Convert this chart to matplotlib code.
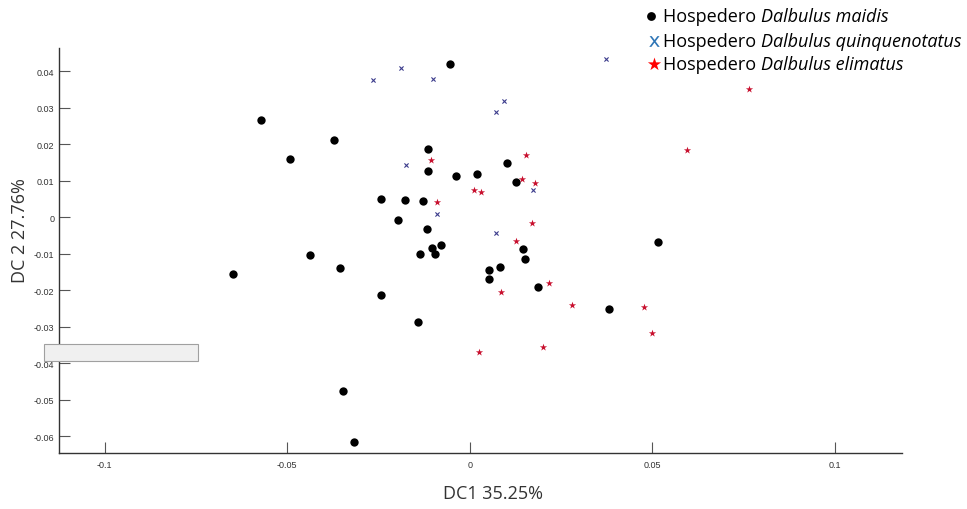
import matplotlib.pyplot as plt
from matplotlib.patches import Rectangle

# puntos (DC1, DC2)
maidis_x = [-0.0055, -0.0572, -0.0373, -0.0492, -0.0113, -0.0113, -0.0037, 0.0019,
            0.0101, 0.0126, -0.0242, -0.0176, -0.0127, -0.0196, -0.0118, -0.0078,
            -0.0104, -0.0136, -0.0094, 0.0146, 0.0152, 0.0083, 0.0052, 0.0052,
            0.0188, -0.0141, 0.0382, 0.0517, -0.0648, -0.0437, -0.0355, -0.0244,
            -0.0347, -0.0316]
maidis_y = [0.0419, 0.0266, 0.0213, 0.0160, 0.0186, 0.0126, 0.0114, 0.0118,
            0.0148, 0.0096, 0.0049, 0.0047, 0.0045, -0.0008, -0.0033, -0.0076,
            -0.0084, -0.0102, -0.0102, -0.0086, -0.0113, -0.0136, -0.0145, -0.0169,
            -0.0192, -0.0288, -0.0251, -0.0068, -0.0155, -0.0104, -0.0140, -0.0213,
            -0.0476, -0.0616]

quinque_x = [-0.0188, -0.0266, -0.0101, 0.0095, 0.0071, -0.0175, -0.0090, 0.0072,
             0.0173, 0.0372]
quinque_y = [0.0409, 0.0376, 0.0379, 0.0319, 0.0289, 0.0142, 0.0008, -0.0043,
             0.0075, 0.0434]

elim_x = [-0.0107, 0.0153, 0.0144, 0.0178, 0.0012, 0.0030, -0.0089, 0.0171,
          0.0128, 0.0217, 0.0086, 0.0281, 0.0200, 0.0025, 0.0478, 0.0499,
          0.0764, 0.0595]
elim_y = [0.0158, 0.0171, 0.0105, 0.0094, 0.0074, 0.0069, 0.0041, -0.0015,
          -0.0064, -0.0181, -0.0204, -0.0240, -0.0355, -0.0370, -0.0247, -0.0318,
          0.0351, 0.0184]

x_ticks = [-0.1, -0.05, 0, 0.05, 0.1]
x_ticklabels = ['-0.1', '-0.05', '0', '0.05', '0.1']
y_ticks = [-0.06, -0.05, -0.04, -0.03, -0.02, -0.01, 0, 0.01, 0.02, 0.03, 0.04]
y_ticklabels = ['-0.06', '-0.05', '-0.04', '-0.03', '-0.02', '-0.01', '0',
                '0.01', '0.02', '0.03', '0.04']

legend_labels = ['Dalbulus maidis', 'Dalbulus quinquenotatus', 'Dalbulus elimatus']

fig = plt.figure(figsize=(9.67, 5.1), dpi=100)
ax = fig.add_axes([0.0607, 0.1098, 0.8724, 0.7935])

ax.scatter(maidis_x, maidis_y, s=36, c='black', marker='o', linewidths=0)
ax.scatter(quinque_x, quinque_y, s=9, c='#3b3b8c', marker='x', linewidths=0.8)
ax.scatter(elim_x, elim_y, s=30, c='#c8102e', marker='*', linewidths=0)

ax.set_xlim(-0.1126, 0.1185)
ax.set_ylim(-0.0646, 0.0463)
ax.set_xticks(x_ticks)
ax.set_xticklabels(x_ticklabels, family='Liberation Sans')
ax.set_yticks(y_ticks)
ax.set_yticklabels(y_ticklabels, family='Liberation Sans')
ax.tick_params(direction='in', length=8, width=0.8, color='#555555',
               labelsize=6.5, labelcolor='#333333', pad=3)
ax.tick_params(axis='x', pad=5)
for side in ['top', 'right']:
    ax.spines[side].set_visible(False)
for side in ['left', 'bottom']:
    ax.spines[side].set_color('#333333')
    ax.spines[side].set_linewidth(1.0)

fig.text(0.51, 0.031, 'DC1 35.25%', ha='center', va='center',
         fontsize=13, color='#333333', family='Open Sans')
fig.text(0.021, 0.548, 'DC 2 27.76%', ha='center', va='center', rotation=90,
         fontsize=13, color='#333333', family='Open Sans')

# leyenda manual arriba a la derecha
leg_y = [0.966, 0.917, 0.873]
leg_mk = [('o', 'black', 40), ('$\\mathsf{x}$', '#2e75b6', 60), ('*', '#ff0000', 100)]
leg_mx = [0.673, 0.676, 0.676]
fig.canvas.draw()
for yy, (m, c, s), mx, lab in zip(leg_y, leg_mk, leg_mx, legend_labels):
    ax.scatter([mx], [yy], transform=fig.transFigure, marker=m, c=c, s=s,
               linewidths=0, clip_on=False)
    t = fig.text(0.6855, yy, 'Hospedero ', ha='left', va='center', fontsize=13,
                 family='Open Sans', color='black')
    bb = t.get_window_extent(renderer=fig.canvas.get_renderer())
    fig.text(bb.x1 / fig.bbox.width, yy, lab, ha='left', va='center', fontsize=13,
             family='Open Sans', style='italic', color='black')

# recuadro gris sobre el eje
fig.add_artist(Rectangle((0.0455, 0.2902), 0.1593, 0.0339, transform=fig.transFigure,
                         facecolor='#f0f0f0', edgecolor='#a0a0a0', linewidth=0.8,
                         zorder=10))

fig.savefig('out.png', dpi=100)
